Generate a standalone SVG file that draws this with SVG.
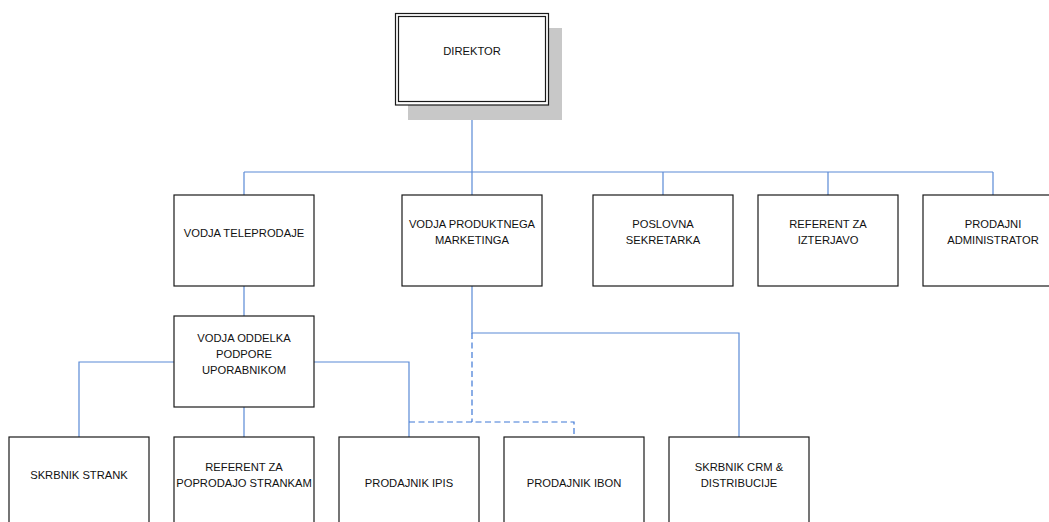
<svg xmlns="http://www.w3.org/2000/svg" width="1049" height="522" viewBox="0 0 1049 522">
<style>
.box{fill:#fff;stroke:#1a1a1a;stroke-width:1.2}
.t{font-family:"Liberation Sans",Arial,sans-serif;font-size:11.2px;fill:#111;text-anchor:middle}
.c{fill:none;stroke:#5a8ad6;stroke-width:1.2}
.d{fill:none;stroke:#3f78d6;stroke-width:1.2;stroke-dasharray:6 3.5}
</style>
<rect width="1049" height="522" fill="#fff"/>
<g id="connectors">
<path class="c" d="M472 105V172M244 172H993M244 172V195M472 172V195M663 172V195M828 172V195M993 172V195"/>
<path class="c" d="M244 286V316M174 362H79V437M314 362H409V437M244 407V437"/>
<path class="c" d="M472 286V333H739V437"/>
<path class="d" d="M472 333V422M409 422H574V435"/>
</g>
<g id="direktor">
<rect x="408" y="28" width="154" height="92" fill="#c8c8c8"/>
<rect x="395.5" y="13.5" width="153" height="91.5" fill="#fff" stroke="#1a1a1a" stroke-width="1.2"/>
<rect x="398.5" y="16.5" width="147" height="85" fill="none" stroke="#1a1a1a" stroke-width="1.2"/>
<text class="t" x="472" y="55">DIREKTOR</text>
</g>
<g id="vodja-teleprodaje">
<rect class="box" x="174" y="195" width="140" height="91"/>
<text class="t" x="244" y="236.5">VODJA TELEPRODAJE</text>
</g>
<g id="vodja-produktnega-marketinga">
<rect class="box" x="402" y="195" width="140" height="91"/>
<text class="t" x="472" y="227.5">VODJA PRODUKTNEGA</text>
<text class="t" x="472" y="244">MARKETINGA</text>
</g>
<g id="poslovna-sekretarka">
<rect class="box" x="593" y="195" width="140" height="91"/>
<text class="t" x="663" y="227.5">POSLOVNA</text>
<text class="t" x="663" y="244">SEKRETARKA</text>
</g>
<g id="referent-za-izterjavo">
<rect class="box" x="758" y="195" width="140" height="91"/>
<text class="t" x="828" y="227.5">REFERENT ZA</text>
<text class="t" x="828" y="244">IZTERJAVO</text>
</g>
<g id="prodajni-administrator">
<rect class="box" x="923" y="195" width="140" height="91"/>
<text class="t" x="993" y="227.5">PRODAJNI</text>
<text class="t" x="993" y="244">ADMINISTRATOR</text>
</g>
<g id="vodja-oddelka">
<rect class="box" x="174" y="316" width="140" height="91"/>
<text class="t" x="244" y="342">VODJA ODDELKA</text>
<text class="t" x="244" y="358">PODPORE</text>
<text class="t" x="244" y="374">UPORABNIKOM</text>
</g>
<g id="skrbnik-strank">
<rect class="box" x="9" y="437" width="140" height="91"/>
<text class="t" x="79" y="479">SKRBNIK STRANK</text>
</g>
<g id="referent-za-poprodajo">
<rect class="box" x="174" y="437" width="140" height="91"/>
<text class="t" x="244" y="470.7">REFERENT ZA</text>
<text class="t" x="244" y="486.7">POPRODAJO STRANKAM</text>
</g>
<g id="prodajnik-ipis">
<rect class="box" x="339" y="437" width="140" height="91"/>
<text class="t" x="409" y="486.7">PRODAJNIK IPIS</text>
</g>
<g id="prodajnik-ibon">
<rect class="box" x="504" y="437" width="140" height="91"/>
<text class="t" x="574" y="486.7">PRODAJNIK IBON</text>
</g>
<g id="skrbnik-crm">
<rect class="box" x="669" y="437" width="140" height="91"/>
<text class="t" x="739" y="470.7">SKRBNIK CRM &amp;</text>
<text class="t" x="739" y="486.7">DISTRIBUCIJE</text>
</g>
</svg>
